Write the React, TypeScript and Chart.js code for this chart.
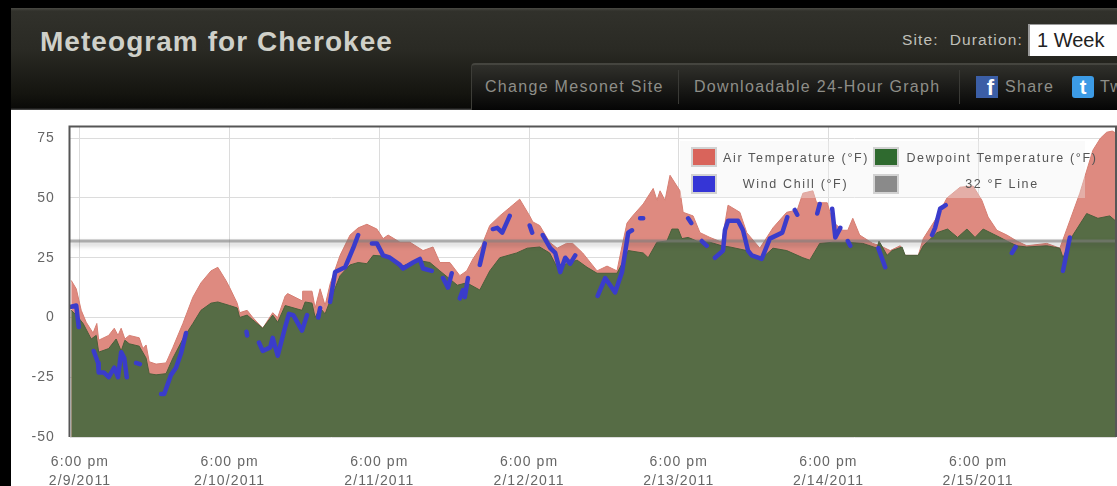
import React, { useEffect, useRef } from "react";
import { Chart, registerables } from "chart.js";

Chart.register(...registerables);

const airHours = [-1.4,-0.6,0.2,1,2.1,2.7,3,4.6,5.5,6.1,6.6,7.2,7.9,9.5,10.1,10.6,11.1,12.2,13.8,14.9,16.5,18.1,19.4,21,22.1,23.4,24,25.2,25.6,26.8,27.7,29.3,30.9,31.7,32.9,33.3,35.6,35.7,37.2,37.7,38.5,39.3,40.1,41.7,43.3,44.6,46,47.6,48.6,49.4,51.3,52.9,55,56.6,57.7,59.3,60.9,62,63,64.4,65.7,67.3,68.9,70.5,72.1,72.6,73.7,75.3,76.5,78,79,80.6,82.9,84.5,86.1,86.6,87.7,88.6,90.3,91.9,92.5,93,93.8,94.6,95.7,96.2,96.7,98.3,99.4,101,102.9,103.9,105.8,106.9,109,111.1,113.3,115,115.9,117.5,118.1,119.8,120.7,122.3,123.1,123.9,125,127.1,128.3,129.9,131.5,132.3,134.4,135.2,137.4,139,141.1,143.2,144.6,145.6,147,148.6,150.2,151.8,155,157.1,158.7,160.3,162.4,163.6,164.6,165.5,166.2];
const airTemp = [15.5,12,3,-2,-6.5,-2.5,-9.5,-7.5,-4.5,-7.5,-4.5,-9,-7.5,-8.5,-13,-11.5,-18.5,-19.5,-19,-12.5,-2.5,8.5,14.5,19.5,21,15.5,12.5,6,2,3,0,-4.5,2,0,9,10,7,11,11,4,12,5,14,26,34.5,37.5,39,37,33,34.5,31.5,31.5,28,29.5,23,23,17.5,19.5,24.5,30,38.5,42.5,46,49.5,42.5,40,38.5,31.5,29,31,31,27,19.5,21.5,19.5,26,39.5,42.5,47.5,54,49,53,49,59.5,55,53,44,42.5,35.5,33.5,31.5,47,44,35.5,29,37.5,44,45,52,53,48,48,40,36.5,36.5,41.5,34.5,31,30,28,30,26,26,33,42,50,54.5,55,49,42,36.5,34.5,32,30,31,29,40.5,52,70,75,77.5,78,77];

const dewHours = [-1.4,-0.6,0.5,1.8,2.6,3,4.6,5.8,6.6,7.2,7.9,9.5,10.6,11.1,12.2,13.8,14.9,16.5,18.1,19.4,21,22.1,24,25.2,25.6,26.8,27.7,29.3,30.9,31.7,32.9,35.6,36.1,37.2,37.7,38.5,39.3,40.1,41.7,43.3,44.6,46,47,49.4,51.3,54,56.1,57.7,60.5,62,64.1,65.7,67.3,70,71.7,73.7,75.3,76.5,78,79.7,81.3,82.9,86.1,86.9,87.9,90.3,91.1,92.5,94.1,94.9,95.9,96.5,97.5,98.9,101,102.9,104.2,106.9,109,111.1,113.3,115.9,117,118.6,120.7,123.1,125.5,127.8,128.1,129.4,130.2,131.8,132.3,134.4,135.2,137.4,139.1,140.7,142.2,143.5,144.8,147.5,148.6,150.2,151.8,155,157.1,157.6,159.2,161.4,163.2,165.1,166.2];
const dewpoint = [3,1,-2.5,-9,-7.5,-14.5,-13,-9,-14,-9.5,-11,-12,-17,-23.5,-24,-23.5,-17,-9,-2.5,3,6,6.5,5,4,0,1,-1,-4.5,1,-2,5,3,6.5,6,0,4,1.5,7,17.5,22,23,22.5,26,25.5,21,24,23,19.5,13.5,14.5,11.5,19.5,25,27,29,29.5,27,21,22.5,24,21,18.5,18.5,22.5,28,27,25,31.5,32,37,37,33,33.5,32,31.5,30,29.5,28,24,29,28,25,24,31,31.5,31.5,31,29,32,26,28,29.5,26,26,30,35.5,37,33.5,37,33.5,37,33.5,32,30,29.5,30,29,25,34.5,43.5,41.5,42.5,40];

const chillHours = [-1.4,-0.6,-0.2,0,2.2,2.9,3,3.8,4.6,5.5,6.1,6.6,7.1,7.5,7.6,9,9.6,9.7,13,13.5,14.6,15.4,16.2,17,17.1,26.7,26.8,26.9,28.7,29.3,30.5,30.9,31.7,32.9,33.5,34.2,35.6,36.4,36.5,38.2,38.5,38.6,40.1,40.9,42.5,43.8,44.6,44.7,46.8,47.6,48.6,49.7,51.3,51.8,53.4,54.5,55,56.4,56.5,58.2,59,59.6,59.7,60.9,61.4,61.7,62.2,62.3,64.1,64.9,65,66.2,66.9,67.7,68.9,69,72.1,72.5,72.6,74.2,75.4,76.2,77,77.8,78.6,79.4,79.5,83,84.2,85.8,86.9,87.9,88.5,88.6,89.8,90.3,90.4,97.5,98,98.1,99.7,100.5,100.6,101.8,103.1,103.4,103.9,105.5,106.3,107.1,107.7,109.3,110.6,112.6,113.4,113.5,114.6,115,115.1,118.2,118.6,118.7,120.6,121.1,121.9,122,123.1,123.5,123.6,128,129.1,129.2,136.6,137.1,137.9,138.8,138.9,149.4,150,150.1,157.6,158.7];
const windChill = [4.5,5,-4,null,-14,-19,-23,-23,-25,-21,-25,-14.5,-17,-25,null,-19,-19.5,null,-32,-32,-24,-21,-15,-6.5,null,-6,-7.5,null,-10.5,-14,-12.5,-8.5,-16,-4,1.5,1,-5.5,1,null,0,4,null,6.5,19,21,29,34.5,null,31,31,26,25,22,20.5,23,24.5,20.5,19.5,null,16.5,12.5,18.5,null,8,11.5,8.5,16.5,null,22,31,null,37,37.5,35.5,42.5,null,38.5,35.5,null,34.5,29,27,19,25,22.5,26,null,9,16.5,10.5,19,35.5,36.5,null,41.5,41.5,null,41.5,39.5,null,32,30,null,25,28,36.5,40.5,40.5,36.5,28,26,24.5,33,35.5,42,null,45,43,null,43.5,47.5,null,45.5,33.5,37.5,null,32,30,null,29,21,null,34.5,37.5,45.5,47,null,27,29.5,null,19.5,33.5];

const freezeHours = [-1.6, 166.1];
const freezeLine = [32, 32];

const xTickHours = [0, 24, 48, 72, 96, 120, 144];
const xTickTimes = ["6:00 pm", "6:00 pm", "6:00 pm", "6:00 pm", "6:00 pm", "6:00 pm", "6:00 pm"];
const xTickDates = ["2/9/2011", "2/10/2011", "2/11/2011", "2/12/2011", "2/13/2011", "2/14/2011", "2/15/2011"];
const yTicks = [-50, -25, 0, 25, 50, 75];
const seriesNames = ["Air Temperature (°F)", "Dewpoint Temperature (°F)", "Wind Chill (°F)", "32 °F Line"];

const pairs = (xs: number[], ys: (number | null)[]) => xs.map((x, i) => ({ x, y: ys[i] }));

const chartDecor = {
  id: "chartDecor",
  beforeDraw(chart: any) {
    chart.ctx.letterSpacing = "1.1px";
  },
  beforeDatasetDraw(chart: any, args: any) {
    if (args.index === 1) {
      chart.ctx.save();
      chart.ctx.shadowColor = "rgba(60,60,60,0.5)";
      chart.ctx.shadowBlur = 5;
      chart.ctx.shadowOffsetY = 3;
    }
  },
  afterDatasetDraw(chart: any, args: any) {
    if (args.index === 1) chart.ctx.restore();
  },
  afterDraw(chart: any) {
    const { ctx, chartArea: a } = chart;
    ctx.save();
    ctx.strokeStyle = "#565656";
    ctx.lineWidth = 2;
    ctx.beginPath();
    ctx.moveTo(a.left - 0.5, a.bottom);
    ctx.lineTo(a.left - 0.5, a.top - 0.5);
    ctx.lineTo(a.right, a.top - 0.5);
    ctx.lineTo(a.right, a.bottom);
    ctx.stroke();
    ctx.restore();
  },
};

const sans = '"Liberation Sans", Arial, sans-serif';

function Swatch({ left, top, color }: { left: number; top: number; color: string }) {
  return (
    <div style={{ position: "absolute", left, top, width: 22, height: 16, background: color, border: "2px solid #d2d2d2" }} />
  );
}

function Label({ left, width, top, text }: { left: number; width: number; top: number; text: string }) {
  return (
    <div style={{ position: "absolute", left, width, top, height: 18, lineHeight: "18px", textAlign: "center", whiteSpace: "nowrap", fontFamily: sans, fontSize: 12.5, letterSpacing: 1.65, color: "#555" }}>
      {text}
    </div>
  );
}

function NavText({ left, text }: { left: number; text: string }) {
  return (
    <div style={{ position: "absolute", left, top: 76, lineHeight: "22px", fontFamily: sans, fontSize: 16, letterSpacing: 1.3, color: "#8e8e88", whiteSpace: "nowrap" }}>
      {text}
    </div>
  );
}

export default function App() {
  const ref = useRef<HTMLCanvasElement | null>(null);

  useEffect(() => {
    document.body.style.margin = "0";
    document.body.style.background = "#000";
    const chart = new Chart(ref.current as HTMLCanvasElement, {
      type: "line",
      data: {
        datasets: [
          {
            label: seriesNames[2],
            data: pairs(chillHours, windChill),
            borderColor: "#3a3ccb",
            borderWidth: 4.5,
            borderCapStyle: "round",
            borderJoinStyle: "round",
            pointRadius: 0,
            spanGaps: false,
            fill: false,
          },
          {
            label: seriesNames[3],
            data: pairs(freezeHours, freezeLine),
            borderColor: "rgba(125,125,125,0.6)",
            borderWidth: 3,
            pointRadius: 0,
            fill: false,
          },
          {
            label: seriesNames[1],
            data: pairs(dewHours, dewpoint),
            borderColor: "#4a5f3b",
            backgroundColor: "#566c45",
            borderWidth: 1,
            pointRadius: 0,
            fill: "start",
          },
          {
            label: seriesNames[0],
            data: pairs(airHours, airTemp),
            borderColor: "#d67e72",
            backgroundColor: "#de8a80",
            borderWidth: 1,
            pointRadius: 0,
            fill: "start",
          },
        ],
      } as any,
      options: {
        responsive: false,
        animation: false,
        parsing: true,
        layout: { padding: { left: 0, top: 127, right: 1, bottom: 0 } },
        plugins: { legend: { display: false }, tooltip: { enabled: false } },
        scales: {
          x: {
            type: "linear",
            min: -1.6,
            max: 166.1,
            border: { display: false },
            grid: { color: "#dcdcdc", lineWidth: 1, drawTicks: false },
            afterBuildTicks: (s: any) => {
              s.ticks = xTickHours.map((value) => ({ value }));
            },
            afterFit: (s: any) => {
              s.height = 49;
            },
            ticks: {
              autoSkip: false,
              maxRotation: 0,
              padding: 16,
              color: "#666",
              font: { family: sans, size: 14, lineHeight: 1.35 },
              callback: (v: any) => {
                const i = xTickHours.indexOf(Number(v));
                return [xTickTimes[i], xTickDates[i]];
              },
            },
          },
          y: {
            min: -50,
            max: 79.7,
            border: { display: false },
            grid: { color: "#dcdcdc", lineWidth: 1, drawTicks: false },
            afterBuildTicks: (s: any) => {
              s.ticks = yTicks.map((value) => ({ value }));
            },
            afterFit: (s: any) => {
              s.width = 70;
            },
            ticks: { padding: 15, color: "#666", font: { family: sans, size: 14 } },
          },
        },
      } as any,
      plugins: [chartDecor],
    });
    return () => chart.destroy();
  }, []);

  return (
    <div style={{ position: "relative", width: 1117, height: 486, overflow: "hidden", background: "#000", filter: "blur(0.6px)" }}>
      <div style={{ position: "absolute", left: 11, top: 110, right: 0, bottom: 0, background: "#fff" }} />
      <div style={{ position: "absolute", left: 11, top: 8, right: 0, height: 102, background: "linear-gradient(#4a4a44 0, #31312b 3px, #2a2a24 40%, #14140f 85%, #0a0a08 98%, #555 100%)" }} />
      <div style={{ position: "absolute", left: 40, top: 24, lineHeight: "36px", fontFamily: sans, fontWeight: 700, fontSize: 28, letterSpacing: 1.05, color: "#cfd0c9", whiteSpace: "nowrap" }}>
        Meteogram for Cherokee
      </div>
      <div style={{ position: "absolute", left: 902, top: 30, lineHeight: "20px", fontFamily: sans, fontSize: 15.5, letterSpacing: 1.15, color: "#c0c0ba", whiteSpace: "nowrap" }}>
        Site:&nbsp; Duration:
      </div>
      <div style={{ position: "absolute", left: 1028, top: 24, width: 100, height: 32, background: "#fff", fontFamily: sans, fontSize: 20, lineHeight: "31px", color: "#222", paddingLeft: 7, boxSizing: "border-box", whiteSpace: "nowrap", borderLeft: "2px solid #999", borderTop: "1px solid #999" }}>
        1 Week
      </div>
      <div style={{ position: "absolute", left: 471, top: 63, width: 660, height: 47, borderTopLeftRadius: 4, borderTop: "2px solid #45453f", borderLeft: "1px solid #3d3d38", boxSizing: "border-box", background: "linear-gradient(#30302b, #050505)" }} />
      <div style={{ position: "absolute", left: 678, top: 70, width: 1, height: 34, background: "#3a3a36" }} />
      <div style={{ position: "absolute", left: 959, top: 70, width: 1, height: 34, background: "#3a3a36" }} />
      <NavText left={485} text="Change Mesonet Site" />
      <NavText left={694} text="Downloadable 24-Hour Graph" />
      <div style={{ position: "absolute", left: 976, top: 76, width: 22, height: 22, background: "#3b5ea6", color: "#fff", fontFamily: sans, fontWeight: 700, fontSize: 22, lineHeight: "24px", textAlign: "right", paddingRight: 4, boxSizing: "border-box", overflow: "hidden" }}>f</div>
      <NavText left={1005} text="Share" />
      <div style={{ position: "absolute", left: 1072, top: 76, width: 22, height: 22, borderRadius: 3, background: "#3c9be6", color: "#fff", fontFamily: sans, fontWeight: 700, fontSize: 20, lineHeight: "22px", textAlign: "center" }}>t</div>
      <NavText left={1100} text="Tweet" />

      <canvas ref={ref} width={1117} height={486} style={{ position: "absolute", left: 0, top: 0, width: 1117, height: 486 }} />

      <div style={{ position: "absolute", left: 680, top: 141, width: 405, height: 57, background: "rgba(240,240,240,0.35)" }} />
      <Swatch left={691} top={147} color="#d9645b" />
      <Swatch left={691} top={174} color="#3535d6" />
      <Swatch left={873} top={147} color="#2f6a2f" />
      <Swatch left={873} top={174} color="#8a8a8a" />
      <Label left={723} width={145} top={149} text={seriesNames[0]} />
      <Label left={904} width={196} top={149} text={seriesNames[1]} />
      <Label left={723} width={145} top={175} text={seriesNames[2]} />
      <Label left={904} width={196} top={175} text={seriesNames[3]} />
    </div>
  );
}
